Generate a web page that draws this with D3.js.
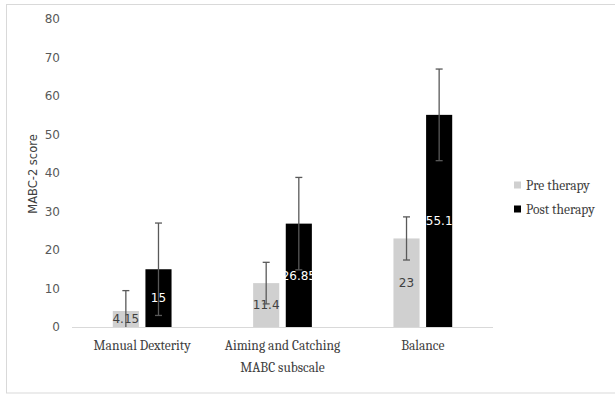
<!DOCTYPE html>
<html>
<head>
<meta charset="utf-8">
<script src="https://cdn.jsdelivr.net/npm/d3@7"></script>
<style>
html,body{margin:0;padding:0;background:#fff;}
svg{display:block;}
</style>
</head>
<body>
<svg id="chart" width="615" height="395"></svg>
<script>
const categories = ["Manual Dexterity", "Aiming and Catching", "Balance"];
const seriesNames = ["Pre therapy", "Post therapy"];
const preValues = [4.15, 11.4, 23];
const postValues = [15, 26.85, 55.1];
const preErrors = [5.3, 5.4, 5.6];
const postErrors = [12, 12, 11.9];
const yTicks = [0, 10, 20, 30, 40, 50, 60, 70, 80];
const colors = ["#d0d0d0", "#000000"];
const labelColors = ["#404040", "#ffffff"];

const svg = d3.select("#chart");
const serif = "Cambria, 'DejaVu Serif', 'Liberation Serif', serif";
const sans = "'DejaVu Sans', Verdana, sans-serif";

// outer border
svg.append("rect").attr("x", 6.5).attr("y", 4.5).attr("width", 620).attr("height", 388.5)
  .attr("fill", "none").attr("stroke", "#d9d9d9").attr("stroke-width", 1);

const plot = {left: 72, right: 493, top: 19, bottom: 327};

const x0 = d3.scaleBand().domain(categories).range([plot.left, plot.right]).paddingInner(0).paddingOuter(0);
const x1 = d3.scaleBand().domain(seriesNames).range([0, x0.bandwidth()]).paddingInner(0.2).paddingOuter(1.25);
const y = d3.scaleLinear().domain([0, 80]).range([plot.bottom, plot.top]);

// y tick labels
svg.append("g").selectAll("text").data(yTicks).join("text")
  .attr("x", 60).attr("y", d => y(d)).attr("dy", "0.35em")
  .attr("text-anchor", "end").attr("font-family", sans).attr("font-size", 12)
  .attr("fill", "#595959").text(d => d);

// x axis line
svg.append("line").attr("x1", plot.left).attr("x2", plot.right)
  .attr("y1", plot.bottom + 0.5).attr("y2", plot.bottom + 0.5)
  .attr("stroke", "#d9d9d9").attr("stroke-width", 1);

const data = categories.map((c, i) => ({
  cat: c,
  vals: [
    {s: seriesNames[0], v: preValues[i], e: preErrors[i], si: 0},
    {s: seriesNames[1], v: postValues[i], e: postErrors[i], si: 1}
  ]
}));

const groups = svg.append("g").selectAll("g").data(data).join("g")
  .attr("transform", d => `translate(${x0(d.cat)},0)`);

groups.selectAll("rect").data(d => d.vals).join("rect")
  .attr("x", d => x1(d.s)).attr("width", x1.bandwidth())
  .attr("y", d => y(d.v)).attr("height", d => y(0) - y(d.v))
  .attr("fill", d => colors[d.si]);

// data labels
groups.selectAll("text.lbl").data(d => d.vals).join("text").attr("class", "lbl")
  .attr("x", d => x1(d.s) + x1.bandwidth() / 2)
  .attr("y", d => (y(d.v) + y(0)) / 2).attr("dy", "0.35em")
  .attr("text-anchor", "middle").attr("font-family", sans).attr("font-size", 12)
  .attr("fill", d => labelColors[d.si]).text(d => d.v);

// error bars
const eb = groups.selectAll("g.eb").data(d => d.vals).join("g").attr("class", "eb")
  .attr("stroke", "#595959").attr("stroke-width", 1.3);
eb.append("line")
  .attr("x1", d => x1(d.s) + x1.bandwidth() / 2).attr("x2", d => x1(d.s) + x1.bandwidth() / 2)
  .attr("y1", d => y(d.v + d.e)).attr("y2", d => y(Math.max(0, d.v - d.e)));
eb.append("line")
  .attr("x1", d => x1(d.s) + x1.bandwidth() / 2 - 3.5).attr("x2", d => x1(d.s) + x1.bandwidth() / 2 + 3.5)
  .attr("y1", d => y(d.v + d.e)).attr("y2", d => y(d.v + d.e));
eb.filter(d => d.v - d.e > 0).append("line")
  .attr("x1", d => x1(d.s) + x1.bandwidth() / 2 - 3.5).attr("x2", d => x1(d.s) + x1.bandwidth() / 2 + 3.5)
  .attr("y1", d => y(d.v - d.e)).attr("y2", d => y(d.v - d.e));

// category labels
svg.append("g").selectAll("text").data(categories).join("text")
  .attr("x", d => x0(d) + x0.bandwidth() / 2).attr("y", 350)
  .attr("text-anchor", "middle").attr("font-family", serif).attr("font-size", 13.5)
  .attr("fill", "#404040").text(d => d);

// axis titles
svg.append("text").attr("x", (plot.left + plot.right) / 2).attr("y", 372)
  .attr("text-anchor", "middle").attr("font-family", serif).attr("font-size", 13.5)
  .attr("fill", "#404040").text("MABC subscale");

svg.append("text").attr("transform", `translate(37,174) rotate(-90)`)
  .attr("text-anchor", "middle").attr("font-family", sans).attr("font-size", 11.5)
  .attr("fill", "#404040").text("MABC-2 score");

// legend
const legend = svg.append("g").selectAll("g").data(seriesNames).join("g")
  .attr("transform", (d, i) => `translate(514,${185 + i * 24})`);
legend.append("rect").attr("x", 0).attr("y", -3.5).attr("width", 7).attr("height", 7)
  .attr("fill", (d, i) => colors[i]);
legend.append("text").attr("x", 12).attr("y", 0).attr("dy", "0.35em")
  .attr("font-family", serif).attr("font-size", 13.5).attr("fill", "#404040").text(d => d);
</script>
</body>
</html>
